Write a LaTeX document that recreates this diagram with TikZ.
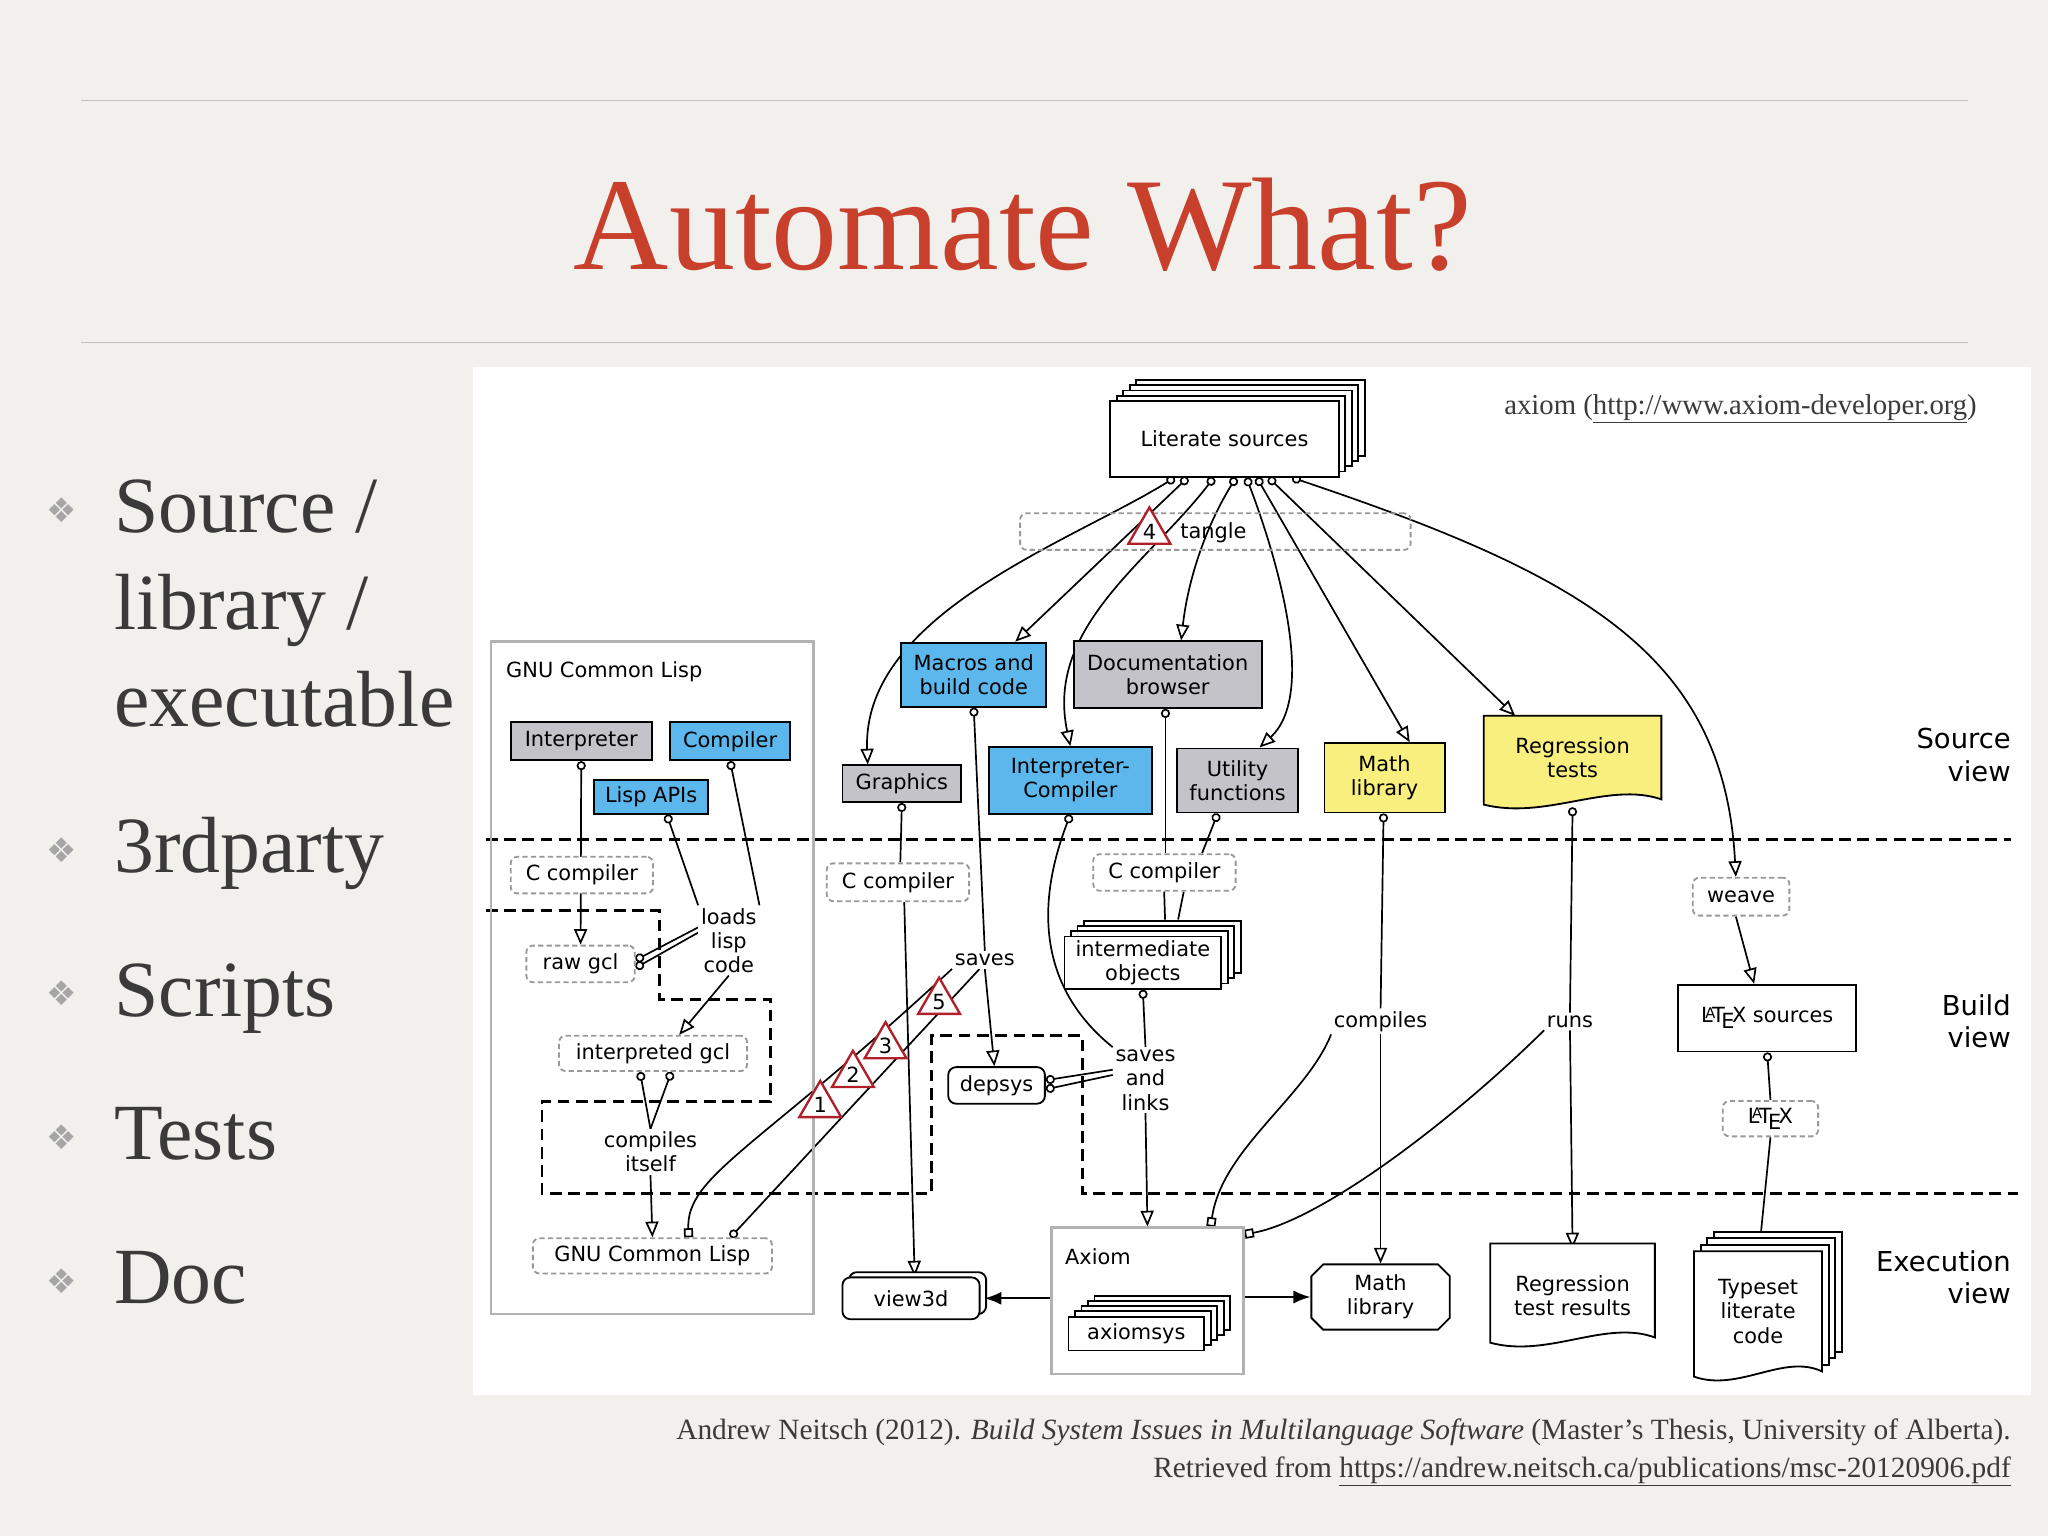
\documentclass[tikz,border=0pt]{standalone}
\usepackage{fontspec}
\setmainfont{Liberation Serif}
\newfontfamily\dsans{DejaVu Sans}
\usetikzlibrary{arrows.meta,shapes.geometric,shapes.misc,calc}
\definecolor{bg}{HTML}{F2F0EC}
\definecolor{ttl}{HTML}{C8402C}
\definecolor{txt}{HTML}{3A3A3A}
\definecolor{bl}{HTML}{5CB8EC}
\definecolor{gr}{HTML}{C3C3C9}
\definecolor{yl}{HTML}{F9EF7E}
\definecolor{rd}{HTML}{B0202A}
\newcommand{\dfs}{\dsans\fontsize{16}{18.5}\selectfont}
\pgfdeclarelayer{bottom}\pgfdeclarelayer{background}
\pgfsetlayers{bottom,background,main}
\tikzset{
 bx/.style={draw, line width=1.4pt, inner sep=1pt, font=\dfs, align=center},
 dbx/.style={bx, draw=gray!80, rounded corners=5pt, fill=white, dash pattern=on 4pt off 2.5pt},
 lb/.style={font=\dfs, align=center, inner sep=2pt, fill=white},
 e/.style={line width=1.3pt, -{Triangle[open,length=12pt,width=10pt]}},
 ce/.style={line width=1.3pt, {Circle[open,length=7pt]}-{Triangle[open,length=12pt,width=10pt]}},
 cl/.style={line width=1.3pt, {Circle[open,length=7pt]}-},
 sqe/.style={line width=1.3pt, {Square[open,length=7pt]}-},
 fa/.style={line width=1.4pt, -{Latex[length=13pt,width=10pt]}},
 reg/.style={line width=2.2pt, dash pattern=on 9pt off 5pt},
 tri/.style={regular polygon, regular polygon sides=3, draw=rd, line width=1.8pt, fill=white, minimum size=37pt, inner sep=0pt, font=\dfs},
 bul/.style={anchor=base west, font=\fontsize{61}{63}\selectfont, text=txt},
 dot/.style={anchor=base west, font=\dsans\fontsize{26}{26}\selectfont, text=gray!70},
}
\newcommand\B[7]{\node[#6, minimum width={#4-#2}, minimum height={#5-#3}] (#1) at ({(#2+#4)/2},{(#3+#5)/2}) {#7};}
\newcommand\St[7]{\foreach \k in {#6,...,1}{\draw[line width=1.4pt, fill=white] ({#2+5*\k},{#3-4*\k}) rectangle ({#4+5*\k},{#5-4*\k});}
 \B{#1}{#2}{#3}{#4}{#5}{bx,fill=white}{#7}}
\newcommand\Doc[5]{\draw[line width=1.4pt, fill=#5] (#1,#2) -- (#3,#2) -- (#3,#4) .. controls ({#3-0.3*(#3-#1)},{#4-14}) and ({#1+0.35*(#3-#1)},{#4+16}) .. (#1,{#4+4}) -- cycle;}
\begin{document}
\begin{tikzpicture}[x=1pt,y=-1pt]
\useasboundingbox (0,0) rectangle (1568,1176);
\begin{pgfonlayer}{bottom}
\fill[bg] (0,0) rectangle (1568,1176);
\fill[white] (362,281) rectangle (1555,1068);
\end{pgfonlayer}
\draw[gray!50, line width=1pt] (62,77) -- (1507,77) (62,262) -- (1507,262);
\node[text=ttl, font=\fontsize{101}{101}\selectfont] (title) at (783,172) {Automate What?};
% bullets
\foreach \t/\y in {{Source /}/408,{library /}/482,{executable}/556,{3rdparty}/668,{Scripts}/778,{Tests}/888,{Doc}/998}{\node[bul] at (84,\y) {\t};}
\foreach \y in {400,660,770,880,990}{\node[dot] at (32,\y) {❖};}
% caption
\node[anchor=base east, font=\fontsize{22.5}{24}\selectfont, text=txt] (cap1) at (1543,1102) {Andrew Neitsch (2012). \textit{Build System Issues in Multilanguage Software} (Master’s Thesis, University of Alberta).};
\node[anchor=base east, font=\fontsize{22.5}{24}\selectfont, text=txt] (cap2) at (1543,1131) {Retrieved from \underline{https://andrew.neitsch.ca/publications/msc-20120906.pdf}};
\node[anchor=base east, font=\fontsize{22}{24}\selectfont, text=txt] (ax) at (1517,317) {axiom (\underline{http://www.axiom-developer.org})};
% region lines
\draw[reg] (372,643) -- (1540,643);
\draw[reg] (372,697) -- (505,697) -- (505,765) -- (590,765) -- (590,843) -- (415,843) -- (415,914) -- (713,914) -- (713,793) -- (829,793) -- (829,914) -- (1545,914);
\node[font=\dsans\fontsize{21}{25}\selectfont, align=right, anchor=east] (sv) at (1543,578) {Source\\view};
\node[font=\dsans\fontsize{21}{25}\selectfont, align=right, anchor=east] (bv) at (1543,782) {Build\\view};
\node[font=\dsans\fontsize{21}{25}\selectfont, align=right, anchor=east] (ev) at (1543,978) {Execution\\view};
% GCL container
\draw[gray!60, line width=2pt] (376,491) rectangle (623,1006);
\node[font=\dfs, anchor=west] (gcllab) at (384,514) {GNU Common Lisp};
\B{interp}{391}{553}{499}{582}{bx,fill=gr}{Interpreter}
\B{comp}{513}{553}{605}{582}{bx,fill=bl}{Compiler}
\B{lisp}{455}{597}{542}{623}{bx,fill=bl}{Lisp APIs}
\B{cc1}{391}{656}{500}{684}{dbx}{C compiler}
\B{rawgcl}{403}{724}{486}{752}{dbx}{raw gcl}
\B{igcl}{428}{793}{572}{820}{dbx}{interpreted gcl}
\B{gcl}{408}{948}{591}{975}{dbx}{GNU Common Lisp}
\node[lb] (loads) at (558,720) {loads\\lisp\\code};
\node[lb] (cself) at (498,882) {compiles\\itself};
% source nodes
\St{lit}{850}{307}{1025}{365}{4}{Literate sources}
\B{tangle}{781}{393}{1080}{421}{bx,draw=gray!80,rounded corners=5pt,dash pattern=on 4pt off 2.5pt}{}
\node[font=\dfs] (tangtxt) at (929,408) {tangle};
\B{macros}{690}{492}{801}{541}{bx,fill=bl}{Macros and\\build code}
\B{docb}{822}{491}{966}{542}{bx,fill=gr}{Documentation\\browser}
\B{graphics}{645}{586}{736}{614}{bx,fill=gr}{Graphics}
\B{icomp}{757}{572}{882}{623}{bx,fill=bl}{Interpreter-\\Compiler}
\B{util}{901}{573}{994}{622}{bx,fill=gr}{Utility\\functions}
\B{mathlib}{1014}{569}{1106}{622}{bx,fill=yl}{Math\\library}
\Doc{1136}{548}{1272}{612}{yl}
\node[font=\dfs, align=center, minimum width=136, minimum height=64] (regt) at (1204,580) {Regression\\tests};
% build nodes
\B{cc2}{633}{661}{742}{690}{dbx}{C compiler}
\B{cc3}{837}{654}{946}{682}{dbx}{C compiler}
\St{iobj}{815}{717}{935}{757}{3}{intermediate\\objects}
\node[lb] (saves) at (754,735) {saves};
\B{depsys}{726}{817}{800}{845}{bx,rounded corners=6pt,fill=white}{depsys}
\node[lb] (savesl) at (877,827) {saves\\and\\links};
\B{weave}{1296}{672}{1370}{701}{dbx}{weave}
\B{latexsrc}{1285}{754}{1421}{805}{bx,fill=white}{\LaTeX\ sources}
\B{latex}{1319}{843}{1392}{870}{dbx}{\LaTeX}
\node[lb] (compl) at (1057,782) {compiles};
\node[lb] (runs) at (1202,782) {runs};
% execution nodes
\B{axiom}{805}{940}{952}{1052}{draw=gray!60,line width=2pt}{}
\node[font=\dfs, anchor=west] (axlab) at (812,962) {Axiom};
\St{axsys}{818}{1008}{922}{1034}{4}{axiomsys}
\draw[line width=1.4pt, rounded corners=6pt, fill=white] (650,974) rectangle (755,1006);
\B{view3d}{645}{978}{750}{1010}{bx,rounded corners=6pt,fill=white}{view3d}
\node[bx, chamfered rectangle, chamfered rectangle xsep=6pt, minimum width=106, minimum height=50, fill=white] (mathl2) at (1057,993) {Math\\library};
\Doc{1141}{952}{1267}{1024}{white}
\node[font=\dfs, align=center, minimum width=126, minimum height=72] (regres) at (1204,992) {Regression\\test results};
\foreach \k in {3,...,1}{\draw[line width=1.4pt, fill=white] ({1297+5*\k},{958-5*\k}) rectangle ({1395+5*\k},{1050-5*\k});}
\Doc{1297}{958}{1395}{1050}{white}
\node[font=\dfs, align=center, minimum width=98, minimum height=92] (typeset) at (1346,1004) {Typeset\\literate\\code};
% edges
\begin{pgfonlayer}{background}
\draw[ce] ([xshift=50pt]lit.south west) .. controls (820,415) and (660,470) .. ([xshift=20pt]graphics.north west);
\draw[ce] ([xshift=60pt]lit.south west) -- ([xshift=88pt]macros.north west);
\draw[ce] ([xshift=80pt]lit.south west) .. controls (880,430) and (800,480) .. (icomp.north);
\draw[ce] ([xshift=97pt]lit.south west) .. controls (925,400) and (910,440) .. ([xshift=83pt]docb.north west);
\draw[ce] ([xshift=105pt]lit.south west) .. controls (975,420) and (1010,530) .. ([xshift=64pt]util.north west);
\draw[ce] ([xshift=113pt]lit.south west) -- ([xshift=66pt]mathlib.north west);
\draw[ce] ([xshift=122pt]lit.south west) -- ([xshift=24pt]1136,548);
\draw[ce] ([xshift=140pt]lit.south west) .. controls (1210,440) and (1320,500) .. ([xshift=-4pt]weave.north);
\draw[ce] (interp.south) -- (rawgcl.north);
\draw[cl] (comp.south) -- (loads.north east);
\draw[cl] ([xshift=12pt]lisp.south) -- (loads.north west);
\draw[cl] ([yshift=3pt]rawgcl.east) -- ([yshift=10pt]loads.west);
\draw[cl] ([yshift=-3pt]rawgcl.east) -- ([yshift=6pt]loads.west);
\draw[e] (loads.south) -- ([xshift=20pt]igcl.north);
\draw[cl] ([xshift=-10pt]igcl.south) -- (cself.north);
\draw[cl] ([xshift=14pt]igcl.south) -- (cself.north);
\draw[e] (cself.south) -- (gcl.north);
\draw[sqe] ([xshift=120pt]gcl.north west) .. controls (525,900) and (580,880) .. (saves.south west);
\draw[cl] ([xshift=152pt]gcl.north west) -- ([xshift=-4pt]saves.south);
\draw[cl] (macros.south) -- (saves.north);
\draw[e] (saves.south) -- ([xshift=36pt]depsys.north west);
\draw[cl] (graphics.south) -- ([xshift=57pt]cc2.north west);
\draw[e] ([xshift=60pt]cc2.south west) -- ([xshift=56pt]view3d.north west);
\draw[cl] (icomp.south) .. controls (790,700) and (800,760) .. (savesl.north west);
\draw[cl] ([xshift=71pt]docb.south west) -- ([xshift=56pt]cc3.north west);
\draw[cl] ([xshift=32pt]util.south west) -- ([xshift=84pt]cc3.north west);
\draw[line width=1.3pt] ([xshift=55pt]cc3.south west) -- (892,704) ([xshift=70pt]cc3.south west) -- (902,704);
\draw[cl] (iobj.south) -- (savesl.north);
\draw[cl] ([yshift=4pt]depsys.east) -- ([yshift=8pt]savesl.west);
\draw[cl] ([yshift=-3pt]depsys.east) -- ([yshift=4pt]savesl.west);
\draw[e] (savesl.south) -- (axiom.north);
\draw[cl] ([xshift=46pt]mathlib.south west) -- (compl.north);
\draw[e] (compl.south) -- (mathl2.north);
\draw[sqe] ([xshift=123pt]axiom.north west) .. controls (935,880) and (1000,840) .. (compl.south west);
\draw[sqe] ([yshift=-6pt]axiom.north east) .. controls (1010,935) and (1110,860) .. (runs.south west);
\draw[cl] (1204,618) -- (runs.north);
\draw[e] (runs.south) -- (regres.north);
\draw[e] ([xshift=-4pt]weave.south) -- ([xshift=-10pt]latexsrc.north);
\draw[cl] (latexsrc.south) -- (latex.north);
\draw[e] (latex.south) -- ([yshift=-8pt]typeset.north);
\end{pgfonlayer}
\draw[fa] (axiom.west |- view3d.east) -- ([xshift=3pt]view3d.east);
\draw[fa] (axiom.east |- mathl2.west) -- (mathl2.west);
% triangles
\node[tri] (t4) at (880,407) {4};
\node[tri] (t1) at (628,846) {1};
\node[tri] (t2) at (653,823) {2};
\node[tri] (t3) at (678,801) {3};
\node[tri] (t5) at (719,767) {5};
\end{tikzpicture}
\end{document}
